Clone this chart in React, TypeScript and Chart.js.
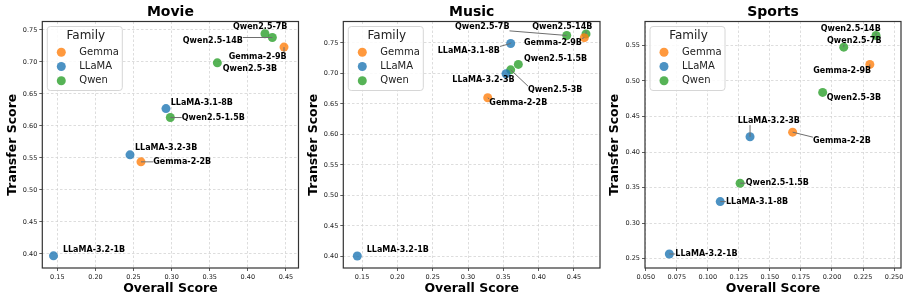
import React, { useEffect, useRef } from "react";
import { Chart, registerables } from "chart.js";

Chart.register(...registerables);

// ---------------- data ----------------
const models = [
  "Gemma-2-2B",
  "Gemma-2-9B",
  "LLaMA-3.2-1B",
  "LLaMA-3.2-3B",
  "LLaMA-3.1-8B",
  "Qwen2.5-1.5B",
  "Qwen2.5-3B",
  "Qwen2.5-7B",
  "Qwen2.5-14B",
];
const families = ["Gemma", "Gemma", "LLaMA", "LLaMA", "LLaMA", "Qwen", "Qwen", "Qwen", "Qwen"];
const familyNames = ["Gemma", "LLaMA", "Qwen"];

const movieOverall = [0.2598, 0.4475, 0.145, 0.2454, 0.2926, 0.2983, 0.36, 0.4225, 0.4322];
const movieTransfer = [0.5438, 0.723, 0.397, 0.5547, 0.627, 0.613, 0.6984, 0.7438, 0.738];

const musicOverall = [0.3279, 0.4646, 0.1433, 0.3538, 0.3604, 0.3712, 0.3604, 0.4397, 0.467];
const musicTransfer = [0.66, 0.7585, 0.4005, 0.6993, 0.749, 0.7147, 0.7058, 0.7621, 0.7647];

const sportsOverall = [0.1683, 0.2305, 0.069, 0.134, 0.11, 0.126, 0.1925, 0.2095, 0.2355];
const sportsTransfer = [0.428, 0.5233, 0.2566, 0.4215, 0.3303, 0.3562, 0.4839, 0.5476, 0.564];

const panelTitles = ["Movie", "Music", "Sports"];
const xAxisTitle = "Overall Score";
const yAxisTitle = "Transfer Score";
const legendTitle = "Family";

// axis limits [min, max]
const movieXRange = [0.1303, 0.4665];
const movieYRange = [0.378, 0.763];
const musicXRange = [0.1235, 0.4868];
const musicYRange = [0.3809, 0.785];
const sportsXRange = [0.0494, 0.2556];
const sportsYRange = [0.2369, 0.5837];

// tick steps and decimals
const movieXStep = 0.05;
const musicXStep = 0.05;
const sportsXStep = 0.025;
const yStep = 0.05;

// ---------------- styles / layout ----------------
const FONT = "'DejaVu Sans', 'Liberation Sans', sans-serif";
const familyColors: Record<string, string> = {
  Gemma: "rgba(255,127,14,0.8)",
  LLaMA: "rgba(31,119,180,0.8)",
  Qwen: "rgba(44,160,44,0.8)",
};

// label offsets in px from the point (text left, text middle), and whether a leader line is drawn
type LabelPos = [number, number, boolean];
const movieLabels: LabelPos[] = [
  [12.3, -0.3, true],
  [-55.3, 9.4, true],
  [9.4, -6.4, false],
  [5, -7, false],
  [4.7, -5.7, false],
  [11.4, 0, true],
  [5.4, 6, false],
  [-32, -6.7, false],
  [-89.6, 3.3, true],
];
const musicLabels: LabelPos[] = [
  [1.6, 5.3, true],
  [-60.3, 4.8, true],
  [9.4, -6.6, false],
  [-53.7, 6.3, false],
  [-73, 7, true],
  [5.7, -5.6, false],
  [17.3, 20.3, true],
  [-111.7, -8.6, true],
  [-53.7, -7, true],
];
const sportsLabels: LabelPos[] = [
  [20.3, 9, true],
  [-56.6, 6.4, true],
  [6, 0, true],
  [-12.3, -15.7, true],
  [5.7, 0, true],
  [5.7, 0, true],
  [4, 5.7, false],
  [-16.7, -6.3, true],
  [-55.3, -6.3, true],
];

interface Panel {
  title: string;
  overall: number[];
  transfer: number[];
  xRange: number[];
  yRange: number[];
  xStep: number;
  xDec: number;
  labels: LabelPos[];
  left: number;
  width: number;
  axisW: number;
  padR: number;
}

const panels: Panel[] = [
  { title: panelTitles[0], overall: movieOverall, transfer: movieTransfer, xRange: movieXRange, yRange: movieYRange, xStep: movieXStep, xDec: 2, labels: movieLabels, left: 0, width: 303, axisW: 42.3, padR: 4.5 },
  { title: panelTitles[1], overall: musicOverall, transfer: musicTransfer, xRange: musicXRange, yRange: musicYRange, xStep: musicXStep, xDec: 2, labels: musicLabels, left: 303, width: 302, axisW: 40.3, padR: 5 },
  { title: panelTitles[2], overall: sportsOverall, transfer: sportsTransfer, xRange: sportsXRange, yRange: sportsYRange, xStep: sportsXStep, xDec: 3, labels: sportsLabels, left: 605, width: 305, axisW: 40, padR: 9 },
];

const HEIGHT = 299;
const TOP = 21.5;
const XAXIS_H = 31;
const POINT_R = 4.5;

function roundRect(ctx: CanvasRenderingContext2D, x: number, y: number, w: number, h: number, r: number) {
  ctx.beginPath();
  ctx.moveTo(x + r, y);
  ctx.lineTo(x + w - r, y);
  ctx.arcTo(x + w, y, x + w, y + r, r);
  ctx.lineTo(x + w, y + h - r);
  ctx.arcTo(x + w, y + h, x + w - r, y + h, r);
  ctx.lineTo(x + r, y + h);
  ctx.arcTo(x, y + h, x, y + h - r, r);
  ctx.lineTo(x, y + r);
  ctx.arcTo(x, y, x + r, y, r);
  ctx.closePath();
}

function PanelChart({ panel }: { panel: Panel }) {
  const ref = useRef<HTMLCanvasElement | null>(null);

  useEffect(() => {
    const canvas = ref.current;
    if (!canvas) return;

    const datasets = familyNames.map((fam) => {
      const idx = models.map((_, i) => i).filter((i) => families[i] === fam);
      return {
        label: fam,
        data: idx.map((i) => ({ x: panel.overall[i], y: panel.transfer[i], name: models[i], li: i })),
        backgroundColor: familyColors[fam],
        borderColor: familyColors[fam],
        borderWidth: 0,
        pointRadius: POINT_R,
        pointHoverRadius: POINT_R,
      };
    });

    const decoPlugin = {
      id: "deco",
      beforeDatasetsDraw(chart: any) {
        const { ctx, chartArea: a } = chart;
        ctx.save();
        ctx.strokeStyle = "#333";
        ctx.lineWidth = 1.2;
        ctx.strokeRect(a.left, a.top, a.right - a.left, a.bottom - a.top);
        ctx.restore();
      },
      afterDatasetsDraw(chart: any) {
        const { ctx, chartArea: a } = chart;
        const xs = chart.scales.x;
        const ys = chart.scales.y;
        ctx.save();
        ctx.font = `bold 8px ${FONT}`;
        ctx.textBaseline = "middle";
        ctx.textAlign = "left";
        const items = models.map((m, i) => {
          const px = xs.getPixelForValue(panel.overall[i]);
          const py = ys.getPixelForValue(panel.transfer[i]);
          const [dx, dy, lead] = panel.labels[i];
          const tw = ctx.measureText(m).width;
          const tx = px + dx;
          const ty = py + dy;
          return { m, px, py, tx, ty, tw, lead };
        });
        // leader lines
        ctx.strokeStyle = "#6e6e6e";
        ctx.lineWidth = 1;
        items.forEach((it) => {
          if (!it.lead) return;
          const bx0 = it.tx, bx1 = it.tx + it.tw, by0 = it.ty - 4, by1 = it.ty + 4;
          const cx = Math.min(Math.max(it.px, bx0), bx1);
          const cy = Math.min(Math.max(it.py, by0), by1);
          ctx.beginPath();
          ctx.moveTo(it.px, it.py);
          ctx.lineTo(cx, cy);
          ctx.stroke();
        });
        // legend
        const lx = a.left + 5, ly = a.top + 5, lw = 75, lh = 64;
        roundRect(ctx, lx, ly, lw, lh, 3);
        ctx.fillStyle = "rgba(255,255,255,0.85)";
        ctx.fill();
        ctx.strokeStyle = "#d6d6d6";
        ctx.lineWidth = 1;
        ctx.stroke();
        ctx.fillStyle = "#222";
        ctx.font = `12px ${FONT}`;
        ctx.textAlign = "center";
        ctx.fillText(legendTitle, lx + lw / 2 + 1, ly + 9.5);
        ctx.font = `10px ${FONT}`;
        ctx.textAlign = "left";
        familyNames.forEach((fam, k) => {
          const yy = ly + 25.7 + k * 14.3;
          ctx.beginPath();
          ctx.arc(lx + 14, yy, POINT_R, 0, Math.PI * 2);
          ctx.fillStyle = familyColors[fam];
          ctx.fill();
          ctx.fillStyle = "#222";
          ctx.fillText(fam, lx + 32, yy);
        });
        // labels
        ctx.font = `bold 8px ${FONT}`;
        ctx.fillStyle = "#000";
        items.forEach((it) => {
          ctx.fillText(it.m, it.tx, it.ty);
        });
        ctx.restore();
      },
      afterDraw(chart: any) {
        const { ctx, chartArea: a } = chart;
        ctx.save();
        ctx.fillStyle = "#000";
        ctx.textAlign = "center";
        ctx.textBaseline = "middle";
        ctx.font = `bold 14px ${FONT}`;
        ctx.fillText(panel.title, (a.left + a.right) / 2, 12.5);
        ctx.font = `bold 12.5px ${FONT}`;
        ctx.fillText(xAxisTitle, (a.left + a.right) / 2, 288.5);
        ctx.translate(a.left - 30, (a.top + a.bottom) / 2);
        ctx.rotate(-Math.PI / 2);
        ctx.fillText(yAxisTitle, 0, 0);
        ctx.restore();
      },
    };

    const tickFont = { family: FONT, size: 6.5 };
    const chart = new Chart(canvas, {
      type: "scatter",
      data: { datasets: datasets as any },
      options: {
        animation: false,
        responsive: false,
        events: [],
        layout: { padding: { top: TOP, right: panel.padR, left: 0, bottom: 0 } },
        plugins: { legend: { display: false }, tooltip: { enabled: false }, title: { display: false } },
        scales: {
          x: {
            type: "linear",
            min: panel.xRange[0],
            max: panel.xRange[1],
            afterFit: (s: any) => {
              s.height = XAXIS_H;
              s.paddingLeft = 0;
              s.paddingRight = 0;
            },
            border: { display: false, dash: [2.5, 2] },
            grid: { color: "#d4d4d4", lineWidth: 0.8, tickColor: "#333", tickLength: 3, tickWidth: 0.8, tickBorderDash: [] },
            ticks: {
              stepSize: panel.xStep,
              includeBounds: false,
              autoSkip: false,
              maxRotation: 0,
              minRotation: 0,
              padding: 2,
              color: "#222",
              font: tickFont,
              callback: (v: any) => Number(v).toFixed(panel.xDec),
            },
          },
          y: {
            type: "linear",
            min: panel.yRange[0],
            max: panel.yRange[1],
            afterFit: (s: any) => {
              s.width = panel.axisW;
              s.paddingTop = 0;
              s.paddingBottom = 0;
            },
            border: { display: false, dash: [2.5, 2] },
            grid: { color: "#d4d4d4", lineWidth: 0.8, tickColor: "#333", tickLength: 3, tickWidth: 0.8, tickBorderDash: [] },
            ticks: {
              stepSize: yStep,
              includeBounds: false,
              autoSkip: false,
              padding: 2,
              color: "#222",
              font: tickFont,
              callback: (v: any) => Number(v).toFixed(2),
            },
          },
        },
      } as any,
      plugins: [decoPlugin],
    });
    return () => chart.destroy();
  }, [panel]);

  return (
    <canvas
      ref={ref}
      width={panel.width}
      height={HEIGHT}
      style={{ position: "absolute", left: panel.left, top: 0, width: panel.width, height: HEIGHT }}
    />
  );
}

export default function App() {
  return (
    <div style={{ position: "absolute", left: 0, top: 0, width: 910, height: HEIGHT, background: "#fff", overflow: "hidden" }}>
      {panels.map((p, i) => (
        <PanelChart key={i} panel={p} />
      ))}
    </div>
  );
}
